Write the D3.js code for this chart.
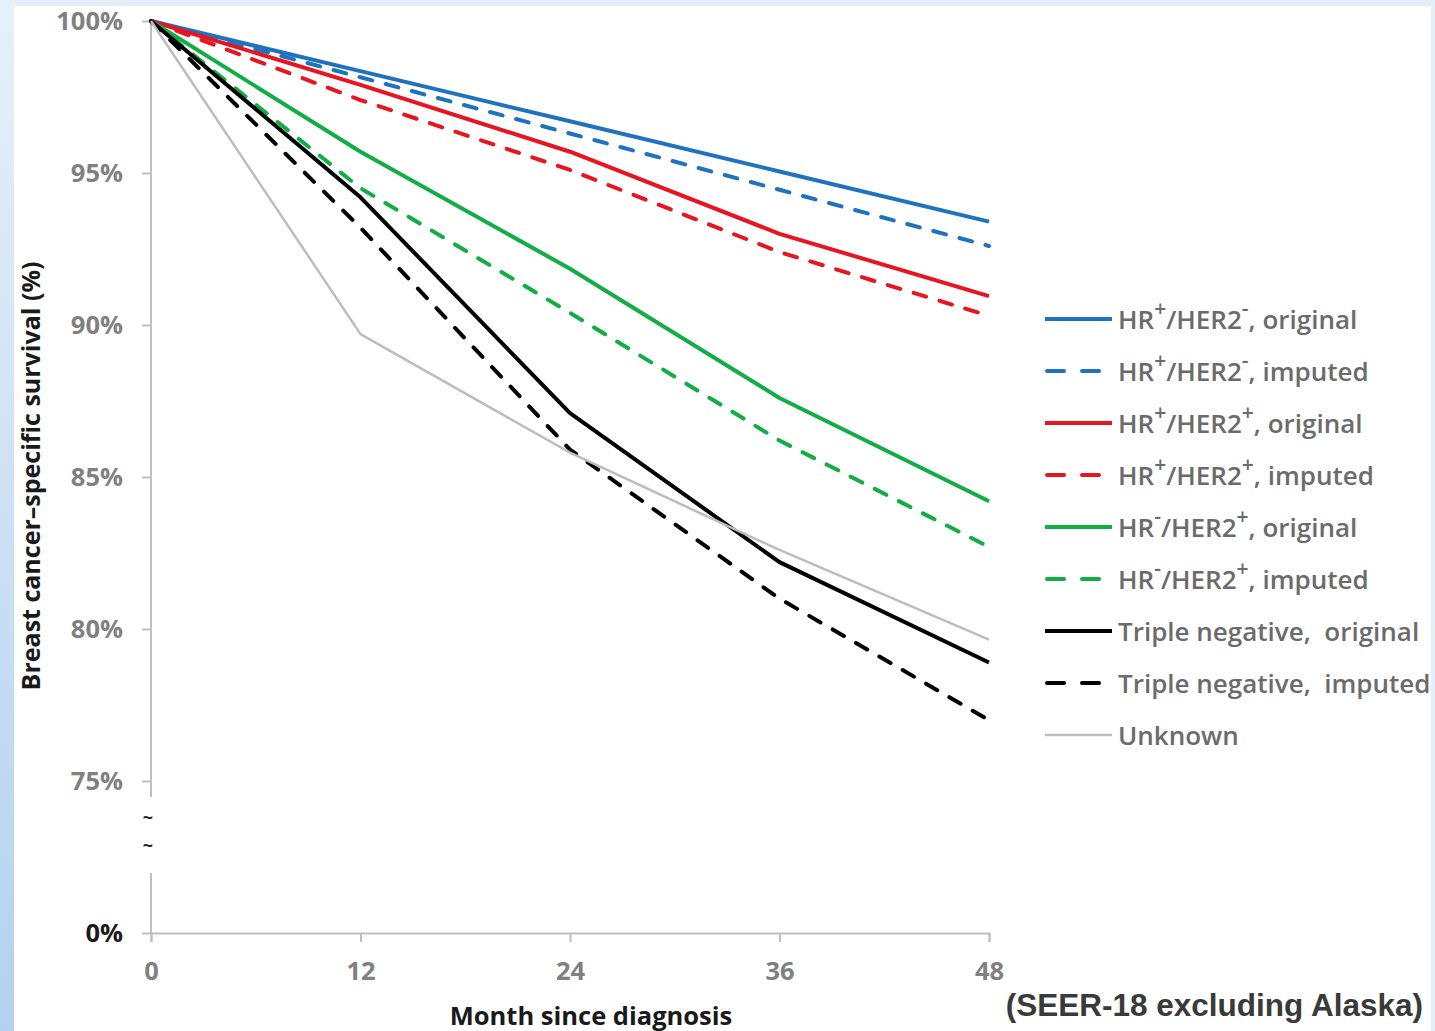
<!DOCTYPE html>
<html>
<head>
<meta charset="utf-8">
<script src="https://cdn.jsdelivr.net/npm/d3@7"></script>
<style>
  html, body { margin: 0; padding: 0; }
  body { width: 1435px; height: 1031px; overflow: hidden; }
  svg text { font-family: "Open Sans", Lato, sans-serif; }
</style>
</head>
<body>
<svg id="chart" width="1435" height="1031"></svg>
<script>
// survival data (percent)
const months = [0, 12, 24, 36, 48];

const hrPosHer2NegOrig = [100, 98.35, 96.7, 95.05, 93.4];
const hrPosHer2NegImp  = [100, 98.15, 96.3, 94.45, 92.6];
const hrPosHer2PosOrig = [100, 97.9, 95.7, 93.0, 90.95];
const hrPosHer2PosImp  = [100, 97.4, 95.1, 92.4, 90.3];
const hrNegHer2PosOrig = [100, 95.7, 91.85, 87.6, 84.2];
const hrNegHer2PosImp  = [100, 94.5, 90.4, 86.2, 82.7];
const tripleNegOrig    = [100, 94.2, 87.1, 82.2, 78.9];
const tripleNegImp     = [100, 93.2, 85.9, 81.0, 77.0];
const unknownSurv      = [100, 89.7, 85.8, 82.6, 79.65];

const yTicks = [0, 75, 80, 85, 90, 95, 100];

// legend labels: [text, superscript] pairs
const legendLabels = [
  [['HR', ''], ['', '+'], ['/HER2', ''], ['', '-'], [', original', '']],
  [['HR', ''], ['', '+'], ['/HER2', ''], ['', '-'], [', imputed', '']],
  [['HR', ''], ['', '+'], ['/HER2', ''], ['', '+'], [', original', '']],
  [['HR', ''], ['', '+'], ['/HER2', ''], ['', '+'], [', imputed', '']],
  [['HR', ''], ['', '-'], ['/HER2', ''], ['', '+'], [', original', '']],
  [['HR', ''], ['', '-'], ['/HER2', ''], ['', '+'], [', imputed', '']],
  [['Triple negative,\u00a0 original', '']],
  [['Triple negative,\u00a0 imputed', '']],
  [['Unknown', '']]
];

const series = [
  { vals: hrPosHer2NegOrig, color: '#1f73be', dash: false, w: 4 },
  { vals: hrPosHer2NegImp,  color: '#1f73be', dash: true,  w: 4 },
  { vals: hrPosHer2PosOrig, color: '#e8141f', dash: false, w: 4 },
  { vals: hrPosHer2PosImp,  color: '#e8141f', dash: true,  w: 4 },
  { vals: hrNegHer2PosOrig, color: '#12ad44', dash: false, w: 4 },
  { vals: hrNegHer2PosImp,  color: '#12ad44', dash: true,  w: 4 },
  { vals: tripleNegOrig,    color: '#000000', dash: false, w: 4 },
  { vals: tripleNegImp,     color: '#000000', dash: true,  w: 4 },
  { vals: unknownSurv,      color: '#bdbdbd', dash: false, w: 2.5 }
];

const svg = d3.select('#chart');

// background: pale blue frame with white panel
const defs = svg.append('defs');
const grad = defs.append('linearGradient').attr('id', 'leftGrad')
  .attr('x1', 0).attr('y1', 0).attr('x2', 0).attr('y2', 1);
grad.append('stop').attr('offset', '0%').attr('stop-color', '#e6f0fa');
grad.append('stop').attr('offset', '100%').attr('stop-color', '#b3d1ee');

svg.append('rect').attr('width', 1435).attr('height', 1031).attr('fill', '#e4eef9');
svg.append('rect').attr('x', 0).attr('y', 0).attr('width', 14).attr('height', 1031)
  .attr('fill', 'url(#leftGrad)');
svg.append('rect').attr('x', 14).attr('y', 6).attr('width', 1417).attr('height', 1025)
  .attr('fill', '#ffffff');

// scales (broken y axis: 0 then 75..100)
const x = d3.scaleLinear().domain([0, 48]).range([151, 989]);
const y = d3.scaleLinear().domain([0, 75, 100]).range([933, 781, 21]);

const axisColor = '#bfbfbf';

// y axis
const yAxis = d3.axisLeft(y)
  .tickValues(yTicks)
  .tickSize(9)
  .tickPadding(19)
  .tickFormat((d) => d + '%');

const yAxisGroup = svg.append('g')
  .attr('transform', 'translate(151,0)')
  .call(yAxis);
yAxisGroup.select('.domain').remove();
yAxisGroup.selectAll('.tick line').attr('stroke', axisColor).attr('stroke-width', 2);
yAxisGroup.selectAll('.tick text')
  .attr('font-family', '"Open Sans", sans-serif')
  .attr('font-size', 25.5)
  .attr('font-weight', 700)
  .attr('fill', (d) => d === 0 ? '#1a1a1a' : '#808080');

// y axis line in two pieces with the break marks
svg.append('line').attr('x1', 151).attr('x2', 151)
  .attr('y1', y(100)).attr('y2', 797)
  .attr('stroke', axisColor).attr('stroke-width', 2);
svg.append('line').attr('x1', 151).attr('x2', 151)
  .attr('y1', 873).attr('y2', y(0))
  .attr('stroke', axisColor).attr('stroke-width', 2);
[824, 852].forEach((yy) => {
  svg.append('text').attr('x', 148).attr('y', yy)
    .attr('text-anchor', 'middle')
    .attr('font-size', 18)
    .attr('font-weight', 700)
    .attr('fill', '#222')
    .text('~');
});

// x axis
const xAxis = d3.axisBottom(x)
  .tickValues(months)
  .tickSize(9)
  .tickPadding(20);

const xAxisGroup = svg.append('g')
  .attr('transform', `translate(0,${y(0)})`)
  .call(xAxis);
xAxisGroup.select('.domain').attr('stroke', axisColor).attr('stroke-width', 2);
xAxisGroup.selectAll('.tick line').attr('stroke', axisColor).attr('stroke-width', 2);
xAxisGroup.selectAll('.tick text')
  .attr('font-family', '"Open Sans", sans-serif')
  .attr('font-size', 25.5)
  .attr('font-weight', 700)
  .attr('fill', '#808080');

// axis titles
svg.append('text')
  .attr('x', 591).attr('y', 1025)
  .attr('text-anchor', 'middle')
  .attr('font-size', 25.5)
  .attr('font-weight', 700)
  .attr('fill', '#1a1a1a')
  .text('Month since diagnosis');

svg.append('text')
  .attr('transform', 'translate(40,476) rotate(-90)')
  .attr('text-anchor', 'middle')
  .attr('font-size', 25)
  .attr('font-weight', 700)
  .attr('fill', '#1a1a1a')
  .text('Breast cancer\u2013specific survival (%)');

// lines
const line = d3.line()
  .x((d, i) => x(months[i]))
  .y((d) => y(d));

svg.append('g').selectAll('path')
  .data(series)
  .enter()
  .append('path')
  .attr('d', (d) => line(d.vals))
  .attr('fill', 'none')
  .attr('stroke', (d) => d.color)
  .attr('stroke-width', (d) => d.w)
  .attr('stroke-linecap', (d) => d.dash ? 'round' : 'butt')
  .attr('stroke-linejoin', 'round')
  .attr('stroke-dasharray', (d) => d.dash ? '13,14' : null);

// legend
const legend = svg.append('g');
series.forEach((s, i) => {
  const ly = 319 + i * 52;
  if (s.dash) {
    legend.append('line')
      .attr('x1', 1047).attr('x2', 1101).attr('y1', ly).attr('y2', ly)
      .attr('stroke', s.color).attr('stroke-width', s.w)
      .attr('stroke-linecap', 'round')
      .attr('stroke-dasharray', '17,18');
  } else {
    legend.append('line')
      .attr('x1', 1045).attr('x2', 1112).attr('y1', ly).attr('y2', ly)
      .attr('stroke', s.color).attr('stroke-width', s.w);
  }
  const t = legend.append('text')
    .attr('x', 1118).attr('y', ly + 10)
    .attr('font-size', 26)
    .attr('font-weight', 600)
    .attr('fill', '#6b6b6b');
  let prevSup = false;
  legendLabels[i].forEach((part) => {
    if (part[1]) {
      t.append('tspan')
        .attr('dy', prevSup ? 0 : -13)
        .attr('font-size', 21)
        .text(part[1]);
      prevSup = true;
    } else {
      t.append('tspan')
        .attr('dy', prevSup ? 13 : 0)
        .text(part[0]);
      prevSup = false;
    }
  });
});

// source note
svg.append('text')
  .attr('x', 1423).attr('y', 1016)
  .attr('text-anchor', 'end')
  .attr('font-size', 31.5)
  .attr('font-weight', 700)
  .attr('fill', '#3a3a3a')
  .style('font-family', '"Liberation Sans", Arial, sans-serif')
  .text('(SEER-18 excluding Alaska)');
</script>
</body>
</html>
